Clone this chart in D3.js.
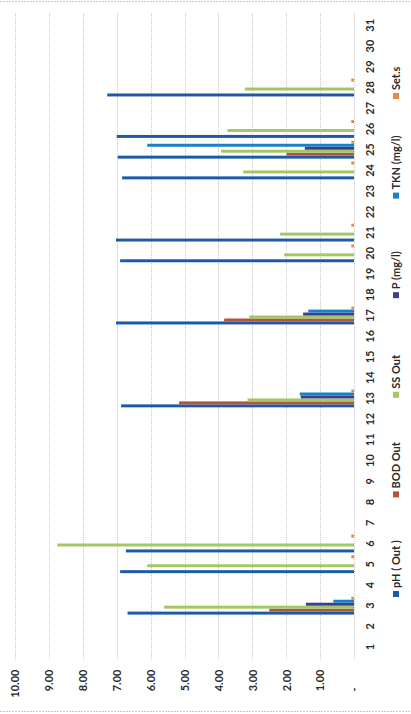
<!DOCTYPE html>
<html>
<head>
<meta charset="utf-8">
<script src="https://cdn.jsdelivr.net/npm/d3@7"></script>
<style>
  html, body { margin: 0; padding: 0; background: #fff; }
  svg { display: block; }
  text { font-family: Lato, "Open Sans", sans-serif; fill: #2a2a2a; }
</style>
</head>
<body>
<svg id="chart" width="411" height="714"></svg>
<script>
// ---------- data ----------
const categories = ["1","2","3","4","5","6","7","8","9","10","11","12","13","14","15","16","17","18","19","20","21","22","23","24","25","26","27","28","29","30","31"];
const seriesNames = ["pH ( Out )", "BOD Out", "SS Out", "P (mg/l)", "TKN (mg/l)", "Set.s"];
const seriesColors = ["#1d5aa6", "#b4533e", "#a3c764", "#3d3f8e", "#1b80c8", "#e58b4a"];
//            1    2    3     4    5     6     7    8    9    10   11   12   13    14   15   16   17    18   19   20    21    22   23   24    25    26    27   28    29   30   31
const phOut = [null,null,6.68,null,6.90,6.73,null,null,null,null,null,null,6.87,null,null,null,7.02,null,null,6.90,7.02,null,null,6.84,6.97,7.00,null,7.28,null,null,null];
const bodOut= [null,null,2.50,null,null,null,null,null,null,null,null,null,5.16,null,null,null,3.83,null,null,null,null,null,null,null,1.99,null,null,null,null,null,null];
const ssOut = [null,null,5.60,null,6.10,8.75,null,null,null,null,null,null,3.14,null,null,null,3.09,null,null,2.06,2.18,null,null,3.27,3.92,3.73,null,3.22,null,null,null];
const pMgl  = [null,null,1.42,null,null,null,null,null,null,null,null,null,1.57,null,null,null,1.50,null,null,null,null,null,null,null,1.45,null,null,null,null,null,null];
const tknMgl= [null,null,0.61,null,null,null,null,null,null,null,null,null,1.60,null,null,null,1.35,null,null,null,null,null,null,null,6.10,null,null,null,null,null,null];
const setS  = [null,null,0.08,null,0.08,0.08,null,null,null,null,null,null,0.08,null,null,null,0.08,null,null,0.08,0.08,null,null,0.08,0.08,0.08,null,0.08,null,null,null];
const valueTicks = [0,1,2,3,4,5,6,7,8,9,10];

const seriesValues = [phOut, bodOut, ssOut, pMgl, tknMgl, setS];

// ---------- layout ----------
const svg = d3.select("#chart");
const plot = { left: 15, right: 354, top: 15, bottom: 657.5 };

// value axis runs horizontally (0 at right, 10 at left) -- chart rotated
const x = d3.scaleLinear().domain([0, 10]).range([plot.right, plot.left]);
// categories run bottom -> top
const y = d3.scaleBand().domain(categories).range([plot.bottom, plot.top])
  .paddingInner(0.14).paddingOuter(0.07);
const ySeries = d3.scaleBand().domain(seriesNames).range([y.bandwidth(), 0]);

// border lines (scan frame)
svg.append("line").attr("x1", 0).attr("x2", 411).attr("y1", 1.5).attr("y2", 1.5)
  .attr("stroke", "#c8c8c8").attr("stroke-dasharray", "2,1");
svg.append("line").attr("x1", 0).attr("x2", 411).attr("y1", 711.5).attr("y2", 711.5)
  .attr("stroke", "#c8c8c8").attr("stroke-dasharray", "2,1");

// gridlines
svg.append("g").selectAll("line").data(valueTicks).join("line")
  .attr("x1", d => Math.round(x(d)) + 0.5).attr("x2", d => Math.round(x(d)) + 0.5)
  .attr("y1", plot.top - 2).attr("y2", plot.bottom + 2)
  .attr("stroke", "#c4c4c4").attr("stroke-width", 1).attr("stroke-dasharray", "1,1");

// bars
const flat = [];
seriesValues.forEach((arr, si) => arr.forEach((v, ci) => {
  if (v != null) flat.push({ cat: categories[ci], s: seriesNames[si], si, v });
}));
svg.append("g").selectAll("rect").data(flat).join("rect")
  .attr("x", d => x(d.v))
  .attr("width", d => x(0) - x(d.v))
  .attr("y", d => y(d.cat) + ySeries(d.s))
  .attr("height", ySeries.bandwidth())
  .attr("fill", d => seriesColors[d.si]);

// value axis (bottom), labels rotated
const xAxis = d3.axisBottom(x).tickValues(valueTicks).tickSize(0)
  .tickFormat(d => d === 0 ? "-" : d3.format(".2f")(d));
const gx = svg.append("g").attr("transform", `translate(0,${plot.bottom})`).call(xAxis);
gx.select(".domain").remove();
gx.selectAll("text")
  .attr("transform", "rotate(-90)")
  .attr("x", d => d === 0 ? -30 : -12)
  .attr("y", 0).attr("dy", "0.35em")
  .style("text-anchor", "end")
  .style("font-size", "11px").style("font-weight", "700")
  .style("font-family", "Lato, 'Open Sans', sans-serif").attr("fill", "#2a2a2a");

// category axis (right), labels rotated
const yAxis = d3.axisRight(y).tickSize(0);
const gy = svg.append("g").attr("transform", `translate(${plot.right},0)`).call(yAxis);
gy.select(".domain").remove();
gy.selectAll("text")
  .attr("transform", "rotate(-90)")
  .attr("x", 0).attr("y", 16).attr("dy", "0.35em")
  .style("text-anchor", "middle")
  .style("font-size", "11px").style("font-weight", "700")
  .style("font-family", "Lato, 'Open Sans', sans-serif").attr("fill", "#2a2a2a");

// legend (rotated)
const legendStep = 99.6;
const legend = svg.append("g").attr("transform", "translate(396,597) rotate(-90)");
const items = legend.selectAll("g").data(seriesNames).join("g")
  .attr("transform", (d, i) => `translate(${i * legendStep},0)`);
items.append("rect").attr("x", 0).attr("y", -3).attr("width", 6).attr("height", 6)
  .attr("fill", (d, i) => seriesColors[i]);
items.append("text").attr("x", 9).attr("y", 0).attr("dy", "0.35em")
  .style("font-size", "11px").style("font-weight", "700")
  .text(d => d);
</script>
</body>
</html>
